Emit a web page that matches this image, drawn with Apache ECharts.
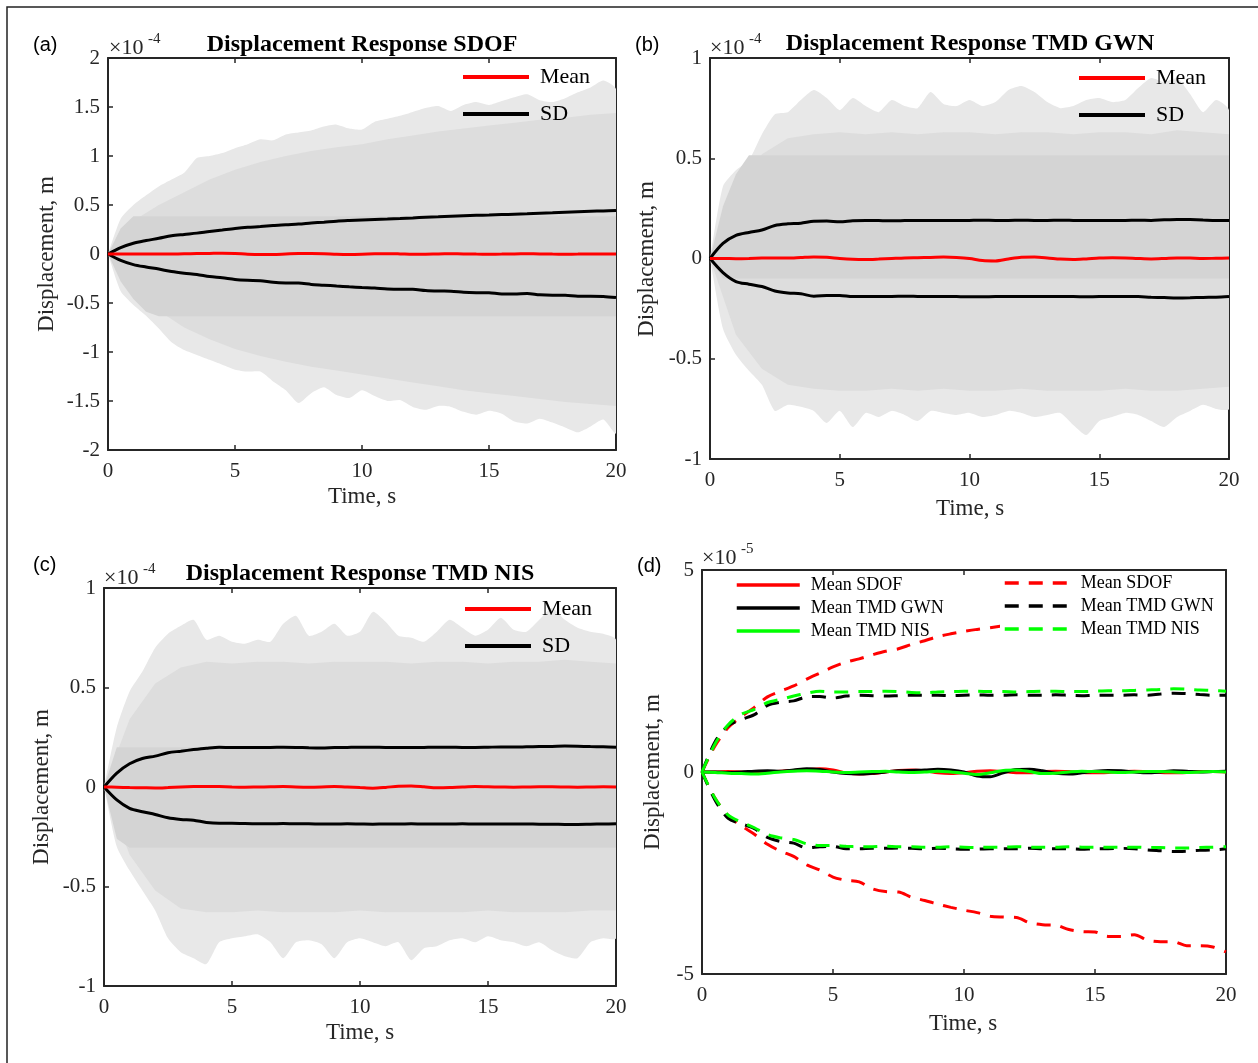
<!DOCTYPE html>
<html><head><meta charset="utf-8">
<script src="https://cdn.jsdelivr.net/npm/echarts@6/dist/echarts.min.js"></script>
<style>html,body{margin:0;padding:0;background:#fff}#c{width:1258px;height:1063px}</style>
</head><body><div id="c"></div>
<script>
// ---- DATA (displacement values in units of 1e-5 m) ----
const T = [0,0.5,1,1.5,2,2.5,3,3.5,4,4.5,5,5.5,6,6.5,7,7.5,8,8.5,9,9.5,10,10.5,11,11.5,12,12.5,13,13.5,14,14.5,15,15.5,16,16.5,17,17.5,18,18.5,19,19.5,20];
const T1 = [0,1,2,3,4,5,6,7,8,9,10,11,12,13,14,15,16,17,18,19,20];

// Mean responses
const meanSDOF = [0,0,0.01,0,-0.01,0,0.02,0.04,0.06,0.08,0.05,-0.02,-0.05,-0.04,0,0.04,0.05,0.03,-0.02,-0.04,-0.02,0.02,0.03,0.01,-0.02,-0.02,0.01,0.02,0.01,-0.01,-0.02,-0.01,0.01,0.02,0.01,-0.01,-0.02,-0.01,0.01,0.01,0];
const meanGWN = [0,0,-0.01,0,0.02,0.03,0.02,0.05,0.08,0.06,0,-0.04,-0.05,-0.03,0,0.03,0.04,0.05,0.07,0.05,0,-0.1,-0.12,-0.02,0.06,0.07,0.03,-0.03,-0.05,-0.02,0.02,0.04,0.03,0,-0.02,0,0.03,0.02,0,0.01,0.02];
const meanNIS = [0,-0.01,-0.03,-0.04,-0.05,-0.03,0,0.02,0.03,0.02,0,-0.01,0,0.01,0.02,0,-0.01,0,0.02,0,-0.03,-0.06,-0.02,0.04,0.05,0.01,-0.04,-0.03,0,0.02,0.01,0,-0.01,0,0.01,0.01,0,-0.01,0,0.01,0];

// Mean +/- SD curves
const sdSDOFup = [0,0.65,1.1,1.37,1.6,1.86,2.0,2.13,2.3,2.45,2.6,2.72,2.8,2.9,2.99,3.05,3.16,3.25,3.35,3.42,3.48,3.53,3.57,3.62,3.68,3.75,3.8,3.85,3.9,3.95,3.98,4.02,4.06,4.1,4.15,4.2,4.27,4.32,4.36,4.4,4.45];
const sdSDOFlo = [0,-0.65,-1.08,-1.33,-1.54,-1.79,-1.96,-2.09,-2.3,-2.43,-2.6,-2.68,-2.72,-2.89,-2.96,-2.97,-3.1,-3.18,-3.27,-3.35,-3.42,-3.48,-3.57,-3.59,-3.6,-3.73,-3.78,-3.79,-3.9,-3.95,-3.96,-4.07,-4.07,-4.03,-4.16,-4.2,-4.2,-4.3,-4.3,-4.33,-4.45];
const sdGWNup = [0,0.75,1.15,1.3,1.42,1.65,1.73,1.76,1.86,1.87,1.83,1.88,1.9,1.89,1.88,1.89,1.9,1.9,1.9,1.89,1.9,1.91,1.9,1.9,1.91,1.9,1.9,1.91,1.9,1.89,1.9,1.9,1.9,1.91,1.9,1.93,1.95,1.94,1.92,1.9,1.9];
const sdGWNlo = [0,-0.7,-1.15,-1.28,-1.4,-1.62,-1.72,-1.76,-1.88,-1.85,-1.84,-1.9,-1.9,-1.89,-1.89,-1.88,-1.89,-1.9,-1.89,-1.9,-1.91,-1.91,-1.9,-1.9,-1.9,-1.89,-1.9,-1.9,-1.9,-1.91,-1.9,-1.9,-1.89,-1.9,-1.93,-1.95,-1.97,-1.96,-1.94,-1.93,-1.9];
const sdNISup = [0,0.7,1.17,1.43,1.55,1.72,1.8,1.88,1.95,2.0,1.98,1.98,1.99,1.99,2.0,1.99,1.97,1.96,1.98,1.99,2.0,2.0,1.99,1.99,1.98,1.99,2.0,2.0,1.99,1.99,2.0,2.01,2.01,2.02,2.03,2.04,2.06,2.05,2.03,2.02,2.0];
const sdNISlo = [0,-0.65,-1.07,-1.24,-1.38,-1.55,-1.63,-1.67,-1.78,-1.82,-1.82,-1.84,-1.85,-1.85,-1.84,-1.85,-1.85,-1.86,-1.86,-1.85,-1.86,-1.87,-1.86,-1.86,-1.85,-1.86,-1.86,-1.86,-1.85,-1.86,-1.86,-1.86,-1.86,-1.86,-1.87,-1.87,-1.88,-1.88,-1.87,-1.86,-1.85];

// Sample-ensemble envelopes (outer faint extent, on T)
const envSDOFup = [0,3.6,5.0,6.0,6.9,7.6,8.3,9.8,10.0,10.3,10.8,11.2,11.7,11.6,12.2,12.4,12.6,13.0,13.2,12.8,12.7,13.5,13.8,14.1,14.5,14.9,15.1,14.6,15.2,15.5,15.2,15.6,16.0,16.3,15.7,15.5,15.9,16.5,17.0,17.7,16.8];
const envSDOFlo = [0,-3.8,-5.2,-6.3,-7.6,-9.0,-9.8,-10.3,-10.8,-11.3,-11.8,-12.0,-12.0,-13.0,-13.9,-15.2,-14.2,-13.6,-14.4,-14.7,-13.9,-14.5,-15.0,-14.9,-15.6,-15.9,-15.5,-15.6,-16.1,-16.4,-16.0,-16.3,-17.1,-17.3,-16.8,-17.2,-17.7,-18.2,-17.6,-16.9,-18.3];
const envGWNup = [0,3.6,4.4,4.9,6.2,7.2,7.3,7.9,8.4,8.0,7.4,8.0,7.6,7.3,7.9,7.6,7.5,8.3,7.7,7.6,7.9,7.6,7.8,8.4,8.6,8.3,7.8,7.5,7.6,7.9,8.0,7.8,7.9,8.5,9.0,8.8,9.0,8.2,7.3,7.9,7.4];
const envGWNlo = [0,-3.5,-4.8,-5.6,-6.3,-7.6,-7.3,-7.4,-7.6,-8.2,-7.6,-8.4,-7.7,-7.9,-7.6,-7.8,-8.1,-7.6,-7.7,-7.8,-7.7,-7.9,-7.8,-7.6,-7.7,-7.9,-7.8,-7.7,-8.3,-8.8,-8.1,-7.9,-7.7,-7.8,-8.1,-8.4,-7.9,-7.6,-7.3,-7.5,-7.5];
const envNISup = [0,3.0,4.8,5.8,7.0,7.7,8.1,8.4,7.4,7.6,7.3,7.2,7.4,7.3,8.2,8.6,7.6,7.8,8.2,7.6,7.8,8.8,8.3,7.6,7.5,7.3,7.8,8.4,8.0,7.6,7.9,8.5,7.9,7.8,8.4,9.0,8.4,8.0,7.8,7.7,7.4];
const envNISlo = [0,-3.0,-4.2,-5.2,-6.2,-7.6,-8.3,-8.6,-8.9,-7.8,-7.6,-7.5,-7.4,-7.8,-8.6,-7.8,-7.7,-7.9,-8.6,-7.8,-7.6,-7.8,-8.0,-7.8,-8.7,-8.1,-8.0,-7.7,-7.6,-7.8,-7.5,-7.7,-7.8,-8.0,-7.8,-8.2,-8.5,-8.6,-7.8,-7.6,-7.6];

// Dense core of the ensemble (on T1)
const coreSDOFup = [0,3.4,5.0,6.3,7.6,8.6,9.4,10.0,10.5,10.9,11.2,11.7,12.1,12.5,12.8,13.1,13.4,13.7,13.9,14.2,14.4];
const coreSDOFlo = [0,-3.8,-5.8,-7.5,-8.7,-9.7,-10.4,-11.0,-11.5,-11.9,-12.3,-12.7,-13.1,-13.5,-13.9,-14.2,-14.5,-14.8,-15.1,-15.3,-15.5];
const coreGWNup = [0,3.6,5.2,6.0,6.2,6.3,6.2,6.3,6.2,6.3,6.3,6.2,6.3,6.3,6.2,6.3,6.3,6.2,6.4,6.3,6.2];
const coreGWNlo = [0,-3.8,-5.5,-6.3,-6.5,-6.6,-6.6,-6.5,-6.6,-6.5,-6.6,-6.6,-6.5,-6.6,-6.6,-6.6,-6.5,-6.6,-6.6,-6.5,-6.4];
const coreNISup = [0,3.4,5.2,6.0,6.3,6.2,6.3,6.3,6.2,6.3,6.3,6.3,6.2,6.3,6.3,6.2,6.3,6.3,6.4,6.3,6.2];
const coreNISlo = [0,-3.4,-5.2,-6.1,-6.3,-6.3,-6.2,-6.3,-6.3,-6.3,-6.2,-6.3,-6.3,-6.3,-6.3,-6.2,-6.3,-6.3,-6.3,-6.2,-6.2];

// Darkest overlap band
const bandSDOFt = [0,0.5,1,1.5,2,20];
const bandSDOFup = [0,2.6,3.85,3.85,3.85,3.85];
const bandSDOFlo = [0,-2.8,-4.6,-5.9,-6.35,-6.35];
const bandGWNt = [0,0.5,1,1.5,20];
const bandGWNup = [0,2.6,4.2,5.15,5.15];
const bandGWNlo = [0,-1.0,-1.0,-1.0,-1.0];
const bandNISt = [0,0.5,1,20];
const bandNISup = [0,2.0,2.0,2.0];
const bandNISlo = [0,-2.6,-3.05,-3.05];

// ---- CHART ----
const SERIF = '"Liberation Serif","Times New Roman",serif';
const SANS = '"Liberation Sans",Arial,sans-serif';
const AX = '#262626';
const grids = [
  {left:108, top:58, width:508, height:392},
  {left:710, top:58, width:519, height:401},
  {left:104, top:588, width:512, height:398},
  {left:702, top:570, width:524, height:404}
];
const yRanges = [[-20,20,5,true],[-10,10,5,true],[-10,10,5,true],[-5,5,5,false]];

const xAxis = [], yAxis = [];
grids.forEach((g, gi) => {
  ['bottom','top'].forEach((pos, k) => {
    xAxis.push({gridIndex:gi, type:'value', min:0, max:20, interval:5, position:pos,
      axisLine:{onZero:false, lineStyle:{color:AX, width:2}},
      axisTick:{show:true, inside:true, length:5, lineStyle:{color:AX, width:1.5}},
      axisLabel:{show:k===0, fontFamily:SERIF, fontSize:21, color:AX, margin:11},
      splitLine:{show:false}});
  });
  const r = yRanges[gi];
  ['left','right'].forEach((pos, k) => {
    yAxis.push({gridIndex:gi, type:'value', min:r[0], max:r[1], interval:r[2], position:pos,
      axisLine:{show:true, onZero:false, lineStyle:{color:AX, width:2}},
      axisTick:{show:true, inside:true, length:5, lineStyle:{color:AX, width:1.5}},
      axisLabel:{show:k===0, fontFamily:SERIF, fontSize:21, color:AX, margin:8,
        formatter: v => r[3] ? String(Math.round(v)/10) : String(v)},
      splitLine:{show:false}});
  });
});

function poly(tu, up, tl, lo, fill, smooth) {
  return function (params, api) {
    const pts = [];
    for (let i = 0; i < tu.length; i++) pts.push(api.coord([tu[i], up[i]]));
    for (let i = tl.length - 1; i >= 0; i--) pts.push(api.coord([tl[i], lo[i]]));
    return {type:'polygon', shape:{points:pts, smooth:smooth}, style:{fill:fill}};
  };
}
function env(gi, tu, up, tl, lo, fill, smooth) {
  return {type:'custom', xAxisIndex:2*gi, yAxisIndex:2*gi, renderItem:poly(tu, up, tl, lo, fill, smooth),
    data:[[0,0]], silent:true, z:1, clip:true, animation:false};
}
function line(gi, name, ys, color, dashed, z) {
  return {type:'line', name:name, xAxisIndex:2*gi, yAxisIndex:2*gi,
    data:T.map((t,i)=>[t, ys[i]]), symbol:'none', smooth:0.3, z:z, silent:true, animation:false,
    lineStyle:{color:color, width:3, type: dashed ? [14,10] : 'solid'}, itemStyle:{color:color}};
}

const OUT = '#e8e8e8', CORE = '#dddddd', BAND = '#d4d4d4';
const GREEN = '#00ff00';
const series = [
  env(0, T, envSDOFup, T, envSDOFlo, OUT, 0.2),
  env(0, T1, coreSDOFup, T1, coreSDOFlo, CORE, 0),
  env(0, bandSDOFt, bandSDOFup, bandSDOFt, bandSDOFlo, BAND, 0),
  line(0, 'SD', sdSDOFup, '#000', false, 3),
  line(0, 'SD', sdSDOFlo, '#000', false, 3),
  line(0, 'Mean', meanSDOF, '#ff0000', false, 4),

  env(1, T, envGWNup, T, envGWNlo, OUT, 0.2),
  env(1, T1, coreGWNup, T1, coreGWNlo, CORE, 0),
  env(1, bandGWNt, bandGWNup, bandGWNt, bandGWNlo, BAND, 0),
  line(1, 'SD', sdGWNup, '#000', false, 3),
  line(1, 'SD', sdGWNlo, '#000', false, 3),
  line(1, 'Mean', meanGWN, '#ff0000', false, 4),

  env(2, T, envNISup, T, envNISlo, OUT, 0.2),
  env(2, T1, coreNISup, T1, coreNISlo, CORE, 0),
  env(2, bandNISt, bandNISup, bandNISt, bandNISlo, BAND, 0),
  line(2, 'SD', sdNISup, '#000', false, 3),
  line(2, 'SD', sdNISlo, '#000', false, 3),
  line(2, 'Mean', meanNIS, '#ff0000', false, 4),

  line(3, 'Mean SDOF', meanSDOF, '#ff0000', false, 3),
  line(3, 'Mean TMD GWN', meanGWN, '#000', false, 3),
  line(3, 'Mean TMD NIS', meanNIS, GREEN, false, 3),
  line(3, 'SD SDOF', sdSDOFup, '#ff0000', true, 3),
  line(3, 'SD SDOF', sdSDOFlo, '#ff0000', true, 3),
  line(3, 'SD TMD GWN', sdGWNup, '#000', true, 3),
  line(3, 'SD TMD GWN', sdGWNlo, '#000', true, 3),
  line(3, 'SD TMD NIS', sdNISup, GREEN, true, 3),
  line(3, 'SD TMD NIS', sdNISlo, GREEN, true, 3)
];

function leg(left, top, names, iw, fs, gap, lw, extra) {
  return Object.assign({orient:'vertical', left:left, top:top, padding:0, itemWidth:iw, itemHeight:14,
    itemGap:gap, selectedMode:false, data:names, itemStyle:{opacity:0}, lineStyle:{width:lw},
    textStyle:{fontFamily:SERIF, fontSize:fs, color:'#000', padding:[0,0,0,6]}}, extra || {});
}
const legend = [
  leg(461, 66, ['Mean','SD'], 66, 22, 15, 4),
  leg(1077, 67, ['Mean','SD'], 66, 22, 15, 4),
  leg(463, 598, ['Mean','SD'], 66, 22, 15, 4),
  leg(735, 576, ['Mean SDOF','Mean TMD GWN','Mean TMD NIS'], 63, 18, 5, 3.5),
  leg(1000, 571, ['SD SDOF','SD TMD GWN','SD TMD NIS'], 65, 18, 5, 3.5,
      {padding:[3,8,5,3], backgroundColor:'#fff', formatter: n => n.replace('SD','Mean')})
];

function txt(x, y, s, o) {
  return {type:'text', x:x, y:y, rotation:(o && o.rot) || 0, z:100, silent:true,
    style:{text:s, fill:(o && o.fill) || '#000', fontFamily:(o && o.ff) || SERIF, fontSize:(o && o.fs) || 21,
      fontWeight:(o && o.fw) || 'normal', textAlign:(o && o.al) || 'left', textVerticalAlign:'middle'}};
}
const graphic = [
  {type:'rect', shape:{x:7, y:7, width:1300, height:1100}, style:{fill:'none', stroke:'#222', lineWidth:1.5}, silent:true, z:0},
  txt(33, 45, '(a)', {ff:SANS, fs:20}), txt(635, 45, '(b)', {ff:SANS, fs:20}),
  txt(33, 565, '(c)', {ff:SANS, fs:20}), txt(637, 566, '(d)', {ff:SANS, fs:20}),
  txt(109, 48, '×10', {fill:AX, fs:22}), txt(148, 39, '-4', {fs:15, fill:AX}),
  txt(710, 48, '×10', {fill:AX, fs:22}), txt(749, 39, '-4', {fs:15, fill:AX}),
  txt(104, 578, '×10', {fill:AX, fs:22}), txt(143, 569, '-4', {fs:15, fill:AX}),
  txt(702, 558, '×10', {fill:AX, fs:22}), txt(741, 549, '-5', {fs:15, fill:AX}),
  txt(362, 45, 'Displacement Response SDOF', {fs:24, fw:'bold', al:'center'}),
  txt(970, 44, 'Displacement Response TMD GWN', {fs:24, fw:'bold', al:'center'}),
  txt(360, 574, 'Displacement Response TMD NIS', {fs:24, fw:'bold', al:'center'}),
  txt(362, 497, 'Time, s', {fs:23, al:'center', fill:AX}),
  txt(970, 509, 'Time, s', {fs:23, al:'center', fill:AX}),
  txt(360, 1033, 'Time, s', {fs:23, al:'center', fill:AX}),
  txt(963, 1024, 'Time, s', {fs:23, al:'center', fill:AX}),
  txt(47, 254, 'Displacement, m', {fs:23, al:'center', fill:AX, rot:Math.PI/2}),
  txt(647, 259, 'Displacement, m', {fs:23, al:'center', fill:AX, rot:Math.PI/2}),
  txt(42, 787, 'Displacement, m', {fs:23, al:'center', fill:AX, rot:Math.PI/2}),
  txt(653, 772, 'Displacement, m', {fs:23, al:'center', fill:AX, rot:Math.PI/2})
];

const chart = echarts.init(document.getElementById('c'), null, {renderer:'canvas'});
chart.setOption({animation:false, backgroundColor:'#fff', grid:grids, xAxis:xAxis, yAxis:yAxis,
  series:series, legend:legend, graphic:graphic});
</script></body></html>
